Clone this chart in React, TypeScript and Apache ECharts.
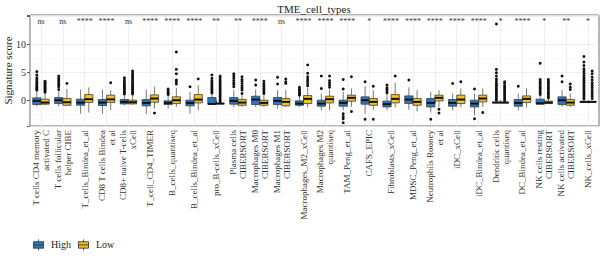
import React, { useEffect, useRef } from "react";
import * as echarts from "echarts";

// Cell-type signatures on the x axis (wrapped / truncated as printed)
const categories = [
  "T cells CD4 memory\nactivated C",
  "T cells follicular\nhelper CIBE",
  "T_cells_Bindea_et_al",
  "CD8 T cells Bindea\net al",
  "CD8+ naive T-cells\nxCell",
  "T_cell_CD4_TIMER",
  "B_cells_quantiseq",
  "B_cells_Bindea_et_al",
  "pro_B-cells_xCell",
  "Plasma cells\nCIBERSORT",
  "Macrophages M0\nCIBERSORT",
  "Macrophages M1\nCIBERSORT",
  "Macrophages_M2_xCell",
  "Macrophages M2\nquantiseq",
  "TAM_Peng_et_al",
  "CAFS_EPIC",
  "Fibroblasts_xCell",
  "MDSC_Peng_et_al",
  "Neutrophils Rooney\net al",
  "iDC_xCell",
  "iDC_Bindea_et_al",
  "Dendritic cells\nquantiseq",
  "DC_Bindea_et_al",
  "NK cells resting\nCIBERSORT",
  "NK cells activated\nCIBERSORT",
  "NK_cells_xCell",
];

// Wilcoxon significance for High vs Low per cell type
const significance = [
  "ns", "ns", "****", "****", "ns", "****", "****", "****", "**", "**",
  "****", "ns", "****", "****", "****", "*", "****", "****", "****", "****",
  "****", "*", "****", "*", "**", "*",
];

// [lower whisker, Q1, median, Q3, upper whisker]
const highBoxes = [
  [-1.1, -0.77, -0.12, 0.41, 1.6],
  [-1.1, -0.6, 0.0, 0.48, 1.6],
  [-2.4, -0.89, -0.42, 0.18, 1.9],
  [-2.4, -0.95, -0.42, 0.12, 1.9],
  [-0.9, -0.66, -0.3, 0.12, 0.9],
  [-2.5, -1.0, -0.48, 0.12, 1.9],
  [-1.5, -0.77, -0.48, -0.12, 0.8],
  [-2.4, -1.0, -0.48, 0.0, 1.5],
  [-0.71, -0.71, -0.66, 0.48, 1.1],
  [-1.2, -0.71, -0.12, 0.48, 1.8],
  [-1.2, -0.77, 0.12, 0.71, 1.9],
  [-1.5, -0.77, -0.12, 0.48, 1.8],
  [-1.2, -0.9, -0.6, -0.12, 0.6],
  [-1.8, -1.07, -0.6, 0.0, 1.2],
  [-1.8, -1.07, -0.48, 0.0, 1.5],
  [-2.4, -0.71, 0.0, 0.6, 2.5],
  [-1.8, -1.2, -0.71, -0.18, 0.9],
  [-1.7, -0.6, 0.12, 0.77, 2.3],
  [-2.2, -1.2, -0.48, 0.3, 1.5],
  [-1.8, -1.07, -0.48, 0.12, 1.2],
  [-2.7, -1.2, -0.6, 0.0, 1.2],
  [-0.42, -0.42, -0.42, -0.36, -0.36],
  [-1.8, -1.07, -0.48, 0.12, 1.2],
  [-0.71, -0.71, -0.55, 0.18, 0.8],
  [-1.2, -0.77, 0.0, 0.6, 1.8],
  [-0.3, -0.3, -0.3, -0.26, -0.26],
];

const lowBoxes = [
  [-0.9, -0.71, -0.42, 0.18, 1.2],
  [-1.05, -0.9, -0.36, 0.3, 2.0],
  [-2.2, -0.4, 0.18, 1.0, 2.3],
  [-1.8, -0.4, 0.15, 0.9, 1.8],
  [-0.8, -0.66, -0.36, 0.0, 0.9],
  [-1.5, -0.36, 0.3, 0.95, 2.4],
  [-1.2, -0.6, 0.0, 0.6, 2.2],
  [-1.8, -0.48, 0.12, 1.0, 2.7],
  [-0.6, -0.6, -0.6, -0.56, -0.56],
  [-1.2, -0.9, -0.42, 0.12, 0.9],
  [-1.2, -0.9, -0.48, 0.0, 0.9],
  [-1.2, -1.0, -0.3, 0.3, 1.8],
  [-1.3, -0.6, 0.24, 0.83, 2.3],
  [-1.8, -0.48, 0.18, 0.71, 1.8],
  [-1.2, -0.18, 0.42, 0.9, 2.1],
  [-1.7, -0.9, -0.3, 0.3, 1.8],
  [-1.3, -0.48, 0.24, 1.0, 3.1],
  [-2.0, -0.9, -0.3, 0.3, 1.8],
  [-1.2, -0.12, 0.42, 0.9, 1.8],
  [-1.3, -0.6, 0.12, 0.9, 2.1],
  [-1.2, -0.3, 0.3, 0.9, 2.1],
  [-0.42, -0.42, -0.42, -0.38, -0.38],
  [-1.3, -0.42, 0.24, 0.77, 2.1],
  [-0.6, -0.6, -0.42, -0.18, 0.2],
  [-1.2, -0.9, -0.42, 0.12, 1.2],
  [-0.3, -0.3, -0.3, -0.26, -0.26],
];

// Points beyond the whiskers
const highOutliers = [
  [1.8, 2.0, 2.2, 2.4, 2.6, 2.9, 3.1, 3.4, 3.7, 4.0, 4.5, 5.1],
  [1.9, 2.4, 2.7, 3.0, 3.3, 3.6, 3.9, 4.3],
  [],
  [],
  [1.1, 1.3, 1.5, 1.7, 2.0, 2.2, 2.5, 2.7, 3.0, 3.3, 3.6, 4.0],
  [],
  [1.0, 1.2, 1.4, 1.7, 2.0],
  [2.4],
  [1.3, 1.5, 1.8, 2.0, 2.3, 2.6, 2.9, 3.2, 3.5, 3.9, 4.5],
  [2.4, 2.8, 3.1, 3.5, 3.9, 4.3, 4.7],
  [2.7, 3.6],
  [2.9, 4.1],
  [0.9, 1.1, 1.3, 1.5, 1.8, 2.0, 2.3],
  [2.1, 4.3],
  [2.0, 3.7, -2.4, -2.9, -3.3, -4.0],
  [3.3, -3.4],
  [1.3, 1.6, 1.9, 2.2, 2.7],
  [3.6],
  [-3.4],
  [3.0],
  [2.0, -3.3],
  [0.0, 0.3, 0.6, 0.9, 1.2, 1.5, 1.8, 2.1, 2.4, 2.7, 3.0, 3.4, 3.8, 4.3, 4.9, 5.5, 13.6],
  [2.5],
  [1.0, 1.3, 1.6, 1.9, 2.2, 2.5, 2.8, 3.1, 3.4, 3.7, 6.6],
  [3.3, 4.3],
  [0.2, 0.5, 0.8, 1.1, 1.4, 1.7, 2.0, 2.3, 2.6, 2.9, 3.2, 3.5, 3.8, 4.1, 4.4, 4.8, 5.2, 5.6, 6.2, 6.8, 7.8],
];

const lowOutliers = [
  [1.4, 1.6, 1.8, 2.0, 2.2, 2.4, 2.6, 2.8, 3.0, 3.2, 3.4],
  [3.0],
  [],
  [3.1],
  [1.1, 1.3, 1.5, 1.8, 2.0, 2.3, 2.5, 2.8, 3.0, 3.3, 3.6, 3.9, 4.2, 4.5, 4.8, 5.2],
  [-2.3],
  [2.9, 3.3, 3.6, 4.7, 5.5, 8.6],
  [3.8],
  [-0.3, 0.0, 0.3, 0.6, 0.9, 1.2, 1.5, 1.8, 2.1, 2.4, 2.7, 3.0, 3.3, 3.6, 4.0, 4.3],
  [1.2, 1.8, 2.2, 2.6, 3.0, 3.4, 3.7, 4.2],
  [1.2, 1.5, 1.8, 2.1, 2.4, 2.7, 3.0, 3.4],
  [3.0, 3.3, 3.8],
  [2.6, 3.0, 3.4, 3.8, 4.2, 4.8, 6.3],
  [2.3, 2.7, 3.1, 3.5, 4.3],
  [4.2, -2.0],
  [2.5, -3.4],
  [4.3],
  [],
  [-1.6, -2.3],
  [3.3],
  [-2.2],
  [-0.1, 0.2, 0.5, 0.8, 1.1, 1.4, 1.7, 2.0, 2.3, 2.6, 3.0, 3.3],
  [],
  [0.4, 0.7, 1.0, 1.3, 1.6, 1.9, 2.2, 2.5, 2.8, 3.1, 3.4, 3.7],
  [1.9, 2.3, 2.9],
  [0.3, 0.7, 1.1, 1.5, 1.9, 2.3, 2.7, 3.1, 3.6, 4.1, 4.7, 5.2],
];

// Labelled y ticks
const yTickValues = [0, 5, 10];

const HIGH_COLOR = "#2a78c2";
const LOW_COLOR = "#f2c31c";
const EDGE = "#3a3a3a";
const FONT = "'Liberation Serif', 'DejaVu Serif', serif";
const Y_MIN = -4.6;
const Y_MAX = 15.2;
const SIG_Y = 14.1;

// Dodged box (side = -1 left, +1 right) with whiskers, thick median and outlier dots
function makeBoxRenderer(boxes: number[][], outliers: number[][], color: string, side: number) {
  return (params: any, api: any) => {
    const i = params.dataIndex;
    const [lo, q1, med, q3, hi] = boxes[i];
    const band = api.size([1, 0])[0];
    const w = band * 0.375;
    const half = w / 2;
    const cx = api.coord([i, 0])[0] + side * band * 0.1875;
    const y = (v: number) => api.coord([i, v])[1];
    const yLo = y(lo), yQ1 = y(q1), yMed = y(med), yQ3 = y(q3), yHi = y(hi);
    const children: any[] = [
      { type: "line", shape: { x1: cx, y1: yHi, x2: cx, y2: yQ3 }, style: { stroke: "#555", lineWidth: 0.8 } },
      { type: "line", shape: { x1: cx, y1: yQ1, x2: cx, y2: yLo }, style: { stroke: "#555", lineWidth: 0.8 } },
      {
        type: "rect",
        shape: { x: cx - half, y: yQ3, width: w, height: Math.max(yQ1 - yQ3, 0.5) },
        style: { fill: color, stroke: EDGE, lineWidth: 0.8 },
      },
      { type: "line", shape: { x1: cx - half, y1: yMed, x2: cx + half, y2: yMed }, style: { stroke: "#111", lineWidth: 2 } },
    ];
    outliers[i].forEach((v) => {
      children.push({ type: "circle", shape: { cx, cy: y(v), r: 1.45 }, style: { fill: "#111" } });
    });
    return { type: "group", children };
  };
}

const centredText = (text: string, size: number, fill = "#222") => ({
  text,
  font: `${size}px ${FONT}`,
  fill,
  textAlign: "center",
  textVerticalAlign: "middle",
});

// only the labelled ticks get text; the frame ends stay blank
const tickLabel = (v: number) => {
  const hit = yTickValues.find((t) => Math.abs(t - Number(v)) < 1e-6);
  return hit === undefined ? "" : String(hit);
};

function buildOption() {
  const boxSeries = (name: string, boxes: number[][], outs: number[][], color: string, side: number) => ({
    type: "custom",
    name,
    silent: true,
    itemStyle: { color, borderColor: EDGE, borderWidth: 0.8 },
    encode: { x: 0, y: [1, 2, 3, 4, 5] },
    data: boxes.map((b, i) => [i, ...b]),
    renderItem: makeBoxRenderer(boxes, outs, color, side),
  });

  return {
    animation: false,
    backgroundColor: "#fff",
    textStyle: { fontFamily: FONT },
    legend: {
      left: 28,
      top: 234,
      orient: "vertical",
      itemWidth: 11,
      itemHeight: 11,
      itemGap: 7,
      icon: "path://M5.5,0V2.5M5.5,9.5V12M0,2.5H11V9.5H0ZM0,6H11",
      itemStyle: { borderColor: EDGE, borderWidth: 0.9 },
      textStyle: { fontFamily: FONT, fontSize: 10, color: "#222", padding: [0, 0, 0, 2] },
      data: ["High", "Low"],
    },
    grid: {
      left: 30,
      right: 1,
      top: 15,
      height: 111,
      show: true,
      borderColor: "#6e6e6e",
      borderWidth: 1,
      containLabel: false,
      outerBoundsMode: "none",
    },
    xAxis: {
      type: "category",
      data: categories,
      boundaryGap: true,
      axisLine: { show: false },
      axisTick: { show: true, alignWithLabel: true, length: 3, lineStyle: { color: "#333", width: 0.8 } },
      splitLine: { show: true, alignWithLabel: true, lineStyle: { color: "#ebebeb", width: 0.8 } },
      axisLabel: {
        interval: 0,
        rotate: 90,
        margin: 4,
        fontFamily: FONT,
        fontSize: 9,
        lineHeight: 10,
        color: "#333",
        hideOverlap: false,
      },
    },
    yAxis: {
      type: "value",
      min: Y_MIN,
      max: Y_MAX,
      splitNumber: 4,
      name: "Signature score",
      nameLocation: "middle",
      nameGap: 17,
      nameMoveOverlap: false,
      nameTextStyle: { fontFamily: FONT, fontSize: 11, color: "#222" },
      axisLine: { show: false },
      axisTick: { show: true, length: 3, lineStyle: { color: "#333", width: 0.8 } },
      axisLabel: {
        show: true,
        showMinLabel: true,
        showMaxLabel: true,
        hideOverlap: false,
        fontFamily: FONT,
        fontSize: 10,
        color: "#333",
        margin: 4,
        formatter: tickLabel,
      },
      splitLine: { show: true, lineStyle: { color: "#ebebeb", width: 0.8 } },
      minorTick: { show: false, splitNumber: 2 },
      minorSplitLine: { show: true, lineStyle: { color: "#f5f5f5", width: 0.5 } },
    },
    series: [
      boxSeries("High", highBoxes, highOutliers, HIGH_COLOR, -1),
      boxSeries("Low", lowBoxes, lowOutliers, LOW_COLOR, 1),
    ],
  };
}

// Title and significance marks, positioned through the chart's own scales
function buildTextGraphics(chart: echarts.ECharts) {
  const els: any[] = [
    { type: "text", x: 314, y: 8.5, z: 10, style: centredText("TME_cell_types", 11) },
  ];
  significance.forEach((s, i) => {
    const [px, py] = chart.convertToPixel({ gridIndex: 0 }, [i, SIG_Y]) as number[];
    els.push({ type: "text", x: px, y: py, z: 10, style: centredText(s, 8, "#333") });
  });
  return els;
}

export default function App() {
  const ref = useRef<HTMLDivElement>(null);
  useEffect(() => {
    const chart = echarts.init(ref.current!, undefined, { renderer: "svg" });
    chart.setOption(buildOption() as any);
    chart.setOption({ graphic: buildTextGraphics(chart) } as any);
    return () => chart.dispose();
  }, []);
  return (
    <div
      ref={ref}
      style={{ position: "absolute", left: 0, top: 0, width: 600, height: 265, background: "#fff" }}
    />
  );
}
